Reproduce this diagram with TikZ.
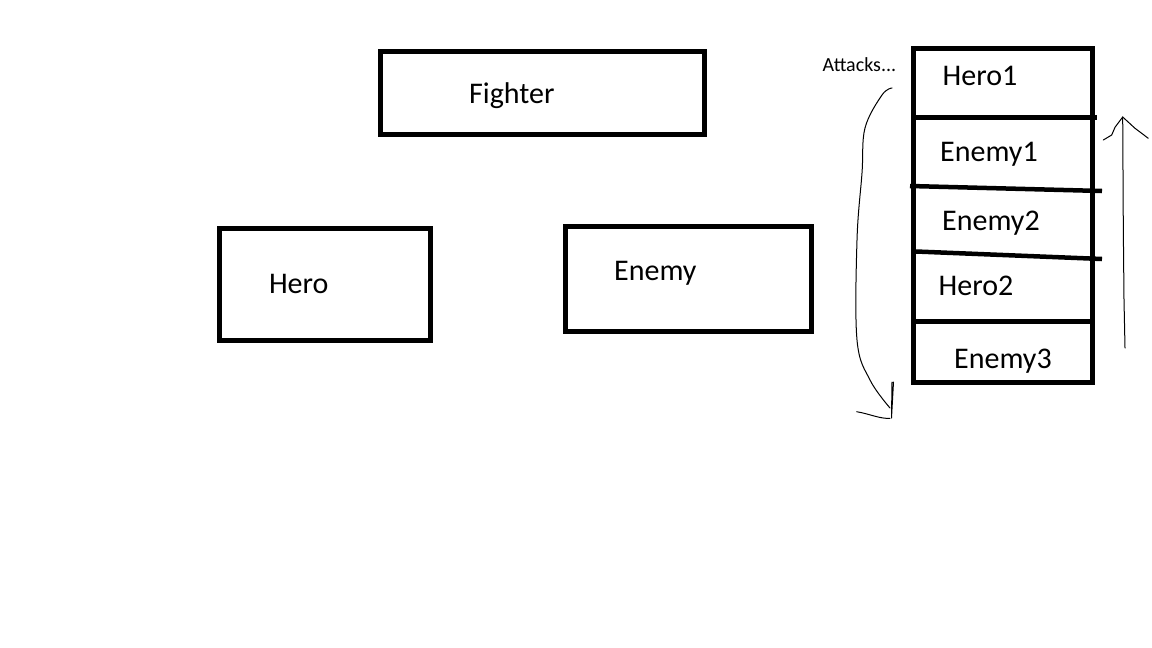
\documentclass[tikz,border=0pt]{standalone}
\usepackage{fontspec}
\setmainfont{Carlito}
\begin{document}
\begin{tikzpicture}[x=1pt,y=-1pt,
  boxshape/.style={draw=black,line width=5pt,rectangle,inner sep=0pt},
  lbl/.style={anchor=base west,inner sep=0pt,font=\fontsize{30pt}{33pt}\selectfont},
  smalllbl/.style={anchor=base west,inner sep=0pt,font=\fontsize{20pt}{22pt}\selectfont},
  divider/.style={line width=4.5pt},
  pen/.style={line width=1pt,line join=round,line cap=round}]
\useasboundingbox (0,0) rectangle (1152,648);
% class boxes
\node[boxshape,minimum width=324pt,minimum height=83pt] (fighterbox) at (542.5,93) {};
\node[lbl] (fighter) at (469,103.3) {Fighter};
\node[boxshape,minimum width=210.7pt,minimum height=112pt] (herobox) at (325.2,284.5) {};
\node[lbl] (hero) at (268.8,293.3) {Hero};
\node[boxshape,minimum width=245.7pt,minimum height=104.2pt] (enemybox) at (688.6,278.9) {};
\node[lbl] (enemy) at (614,280.7) {Enemy};
% turn stack
\node[boxshape,minimum width=179.5pt,minimum height=334pt] (stack) at (1003.2,215.5) {};
\coordinate (d1a) at (913,117.3); \coordinate (d1b) at (1097,117.3);
\coordinate (d2a) at (910,186); \coordinate (d2b) at (1102,191);
\coordinate (d3a) at (916,251.5); \coordinate (d3b) at (1102,259);
\coordinate (d4a) at (914,321.7); \coordinate (d4b) at (1094,321.7);
\draw[divider] (d1a) -- (d1b);
\draw[divider] (d2a) -- (d2b);
\draw[divider] (d3a) -- (d3b);
\draw[divider] (d4a) -- (d4b);
\node[lbl] (hero1) at (942.5,85) {Hero1};
\node[lbl] (enemy1) at (940,161.7) {Enemy1};
\node[lbl] (enemy2) at (942,230) {Enemy2};
\node[lbl] (hero2) at (938.5,295) {Hero2};
\node[lbl] (enemy3) at (954,368.3) {Enemy3};
\node[smalllbl] (attacks) at (822.5,71.7) {Attacks...};
% hand-drawn down arrow
\coordinate (downstart) at (892,88);
\coordinate (downend) at (890,408);
\draw[pen] plot[smooth,tension=0.6] coordinates {(downstart) (882,95) (865,128) (862,173) (857,240) (857,340) (870,380) (downend)};
\draw[pen] (892,382) -- (891.5,418) -- (893.5,382);
\draw[pen] (856.7,411.7) .. controls (870,414) and (880,419) .. (890,418.3);
% hand-drawn up arrow
\coordinate (upstart) at (1125,348);
\coordinate (uptip) at (1122.7,117);
\draw[pen] (upstart) -- (1124,300) -- (1123.3,226.7) -- (uptip);
\draw[pen] (1103.3,140) -- (1111.7,135) -- (1115,127.3) -- (uptip);
\draw[pen] (uptip) -- (1135,128.3) -- (1148.3,138.3);
\end{tikzpicture}
\end{document}
